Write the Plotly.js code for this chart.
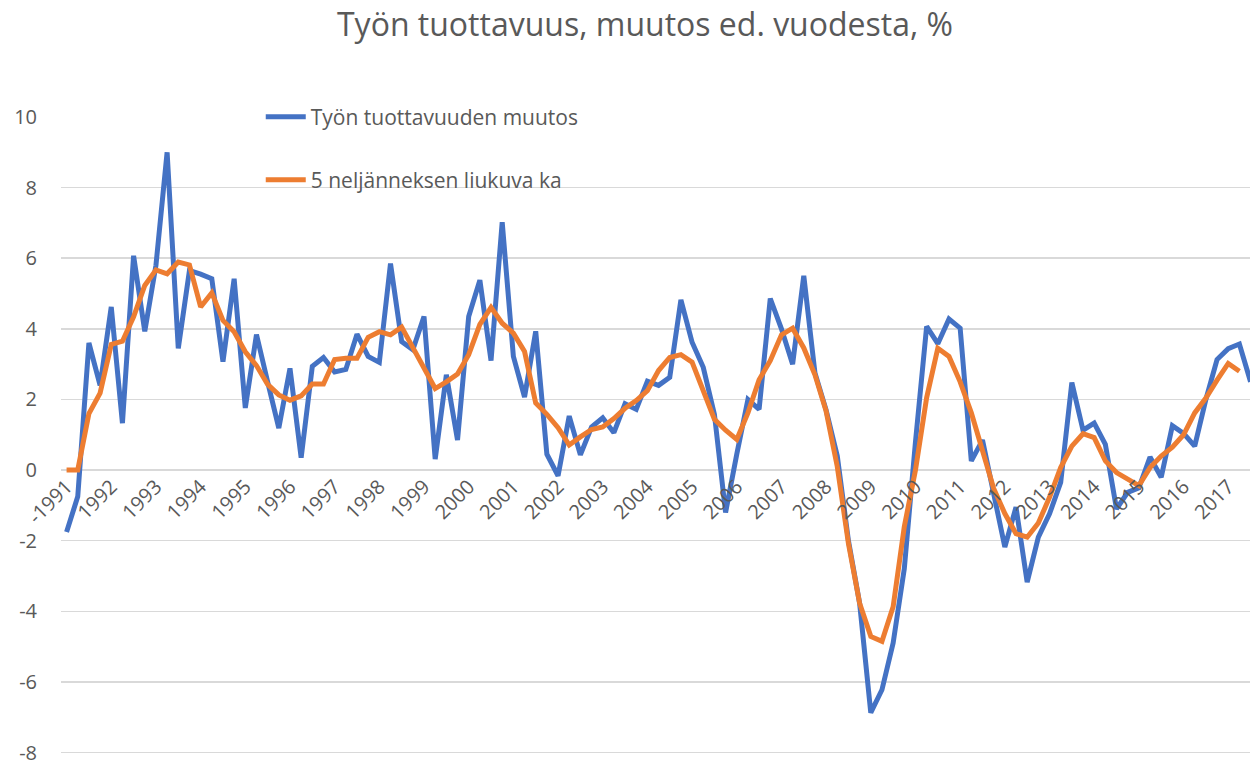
<!DOCTYPE html>
<html>
<head>
<meta charset="utf-8">
<script src="https://cdn.plot.ly/plotly-3.0.1.min.js"></script>
<style>html,body{margin:0;padding:0;background:#fff;}#chart{width:1250px;height:766px;}</style>
</head>
<body>
<div id="chart"></div>
<script>
// Quarterly categories 1991Q1 ... 2017Q3
const years = ["-1991","1992","1993","1994","1995","1996","1997","1998","1999","2000","2001","2002","2003","2004","2005","2006","2007","2008","2009","2010","2011","2012","2013","2014","2015","2016","2017"];
const startYear = 1991;
const nQuarters = 107;
const quarters = [];
for (let i = 0; i < nQuarters; i++) {
  quarters.push((startYear + Math.floor(i / 4)) + "Q" + (i % 4 + 1));
}
const yearTickCats = years.map((y, k) => quarters[k * 4]);

const seriesNames = ["Työn tuottavuuden muutos", "5 neljänneksen liukuva ka"];

const productivityChange = [
  -1.75, -0.75, 3.6, 2.4, 4.62, 1.33, 6.07, 3.93,
  5.8, 9.0, 3.45, 5.65, 5.55, 5.42, 3.07, 5.42,
  1.76, 3.84, 2.5, 1.19, 2.88, 0.35, 2.94, 3.19,
  2.78, 2.85, 3.85, 3.22, 3.05, 5.85, 3.64, 3.41,
  4.35, 0.31, 2.70, 0.85, 4.35, 5.38, 3.10, 7.02,
  3.22, 2.07, 3.93, 0.45, -0.16, 1.53, 0.43, 1.22,
  1.48, 1.06, 1.88, 1.72, 2.52, 2.40, 2.63, 4.82,
  3.62, 2.91, 1.58, -1.2, 0.45, 2.0, 1.72, 4.86,
  4.0, 3.0, 5.5, 2.75, 1.7, 0.4, -2.0, -3.77,
  -6.87, -6.22, -4.9, -2.79, 0.8, 4.07, 3.58, 4.28,
  4.02, 0.26, 0.85, -0.7, -2.18, -1.05, -3.17, -1.9,
  -1.24, -0.35, 2.48, 1.13, 1.33, 0.73, -1.1, -0.63,
  -0.5, 0.37, -0.2, 1.26, 1.04, 0.68, 2.0, 3.13,
  3.44, 3.57, 2.5
];

const movingAverage5 = [
  0, 0, 1.6, 2.18, 3.56, 3.65, 4.34, 5.23,
  5.67, 5.56, 5.89, 5.81, 4.62, 5.02, 4.24, 3.92,
  3.35, 2.96, 2.43, 2.13, 1.98, 2.1, 2.44, 2.44,
  3.13, 3.17, 3.17, 3.76, 3.92, 3.83, 4.05, 3.46,
  2.85, 2.31, 2.50, 2.72, 3.27, 4.13, 4.61, 4.16,
  3.88, 3.36, 1.9, 1.58, 1.2, 0.71, 0.94, 1.15,
  1.22, 1.46, 1.75, 1.97, 2.25, 2.82, 3.19, 3.27,
  3.06, 2.28, 1.44, 1.13, 0.87, 1.62, 2.56, 3.10,
  3.83, 4.02, 3.46, 2.7, 1.67, 0.1, -2.08, -3.77,
  -4.71, -4.85, -3.87, -1.6, 0.0, 2.05, 3.45, 3.22,
  2.5, 1.62, 0.5, -0.52, -1.23, -1.8, -1.9, -1.5,
  -0.77, 0.07, 0.68, 1.03, 0.92, 0.26, -0.07, -0.25,
  -0.44, 0.07, 0.4, 0.65, 1.0, 1.62, 2.04, 2.55,
  3.02, 2.8
];

const yTicks = [-8, -6, -4, -2, 0, 2, 4, 6, 8, 10];

const FONT = "'Open Sans', 'Liberation Sans', sans-serif";
const GREY = "#595959";
const yMin = -8.04, yMax = 10.0;

const traces = [
  {
    x: quarters.slice(0, productivityChange.length),
    y: productivityChange,
    type: "scatter",
    mode: "lines",
    name: seriesNames[0],
    line: { color: "#4472C4", width: 5 },
    legend: "legend"
  },
  {
    x: quarters.slice(0, movingAverage5.length),
    y: movingAverage5,
    type: "scatter",
    mode: "lines",
    name: seriesNames[1],
    line: { color: "#ED7D31", width: 5 },
    legend: "legend2"
  }
];

const layout = {
  width: 1250,
  height: 766,
  margin: { l: 61, r: 0, t: 117, b: 12 },
  paper_bgcolor: "#ffffff",
  plot_bgcolor: "#ffffff",
  font: { family: FONT, color: GREY, size: 20 },
  title: {
    text: "Työn tuottavuus, muutos ed. vuodesta, %",
    font: { family: FONT, size: 32, color: GREY },
    xref: "container", x: 0.516, xanchor: "center",
    yref: "container", y: 0.968, yanchor: "middle"
  },
  xaxis: {
    type: "category",
    categoryarray: quarters,
    range: [-0.5, 105.95],
    anchor: "free",
    position: (0 - yMin) / (yMax - yMin),
    showgrid: false,
    zeroline: false,
    showline: false,
    ticks: "",
    tickmode: "array",
    tickvals: yearTickCats,
    ticktext: years,
    tickangle: -45,
    tickfont: { family: FONT, size: 20, color: GREY },
    ticklabeloverflow: "allow",
    fixedrange: true
  },
  yaxis: {
    range: [yMin, yMax],
    tickmode: "array",
    tickvals: yTicks,
    ticktext: yTicks.map(String),
    showgrid: true,
    gridcolor: "#D9D9D9",
    gridwidth: 1.5,
    zeroline: false,
    showline: false,
    ticks: "outside",
    ticklen: 19,
    tickcolor: "rgba(0,0,0,0)",
    tickfont: { family: FONT, size: 20, color: GREY },
    ticklabeloverflow: "allow",
    fixedrange: true
  },
  showlegend: true,
  legend: {
    x: 0.168, xanchor: "left",
    y: 1.0, yanchor: "middle",
    bgcolor: "rgba(255,255,255,0)",
    font: { family: FONT, size: 21, color: GREY },
    itemwidth: 40
  },
  legend2: {
    x: 0.168, xanchor: "left",
    y: 0.901, yanchor: "middle",
    bgcolor: "rgba(255,255,255,0)",
    font: { family: FONT, size: 21, color: GREY },
    itemwidth: 40
  }
};

Plotly.newPlot("chart", traces, layout, { displayModeBar: false, staticPlot: true });
</script>
</body>
</html>
